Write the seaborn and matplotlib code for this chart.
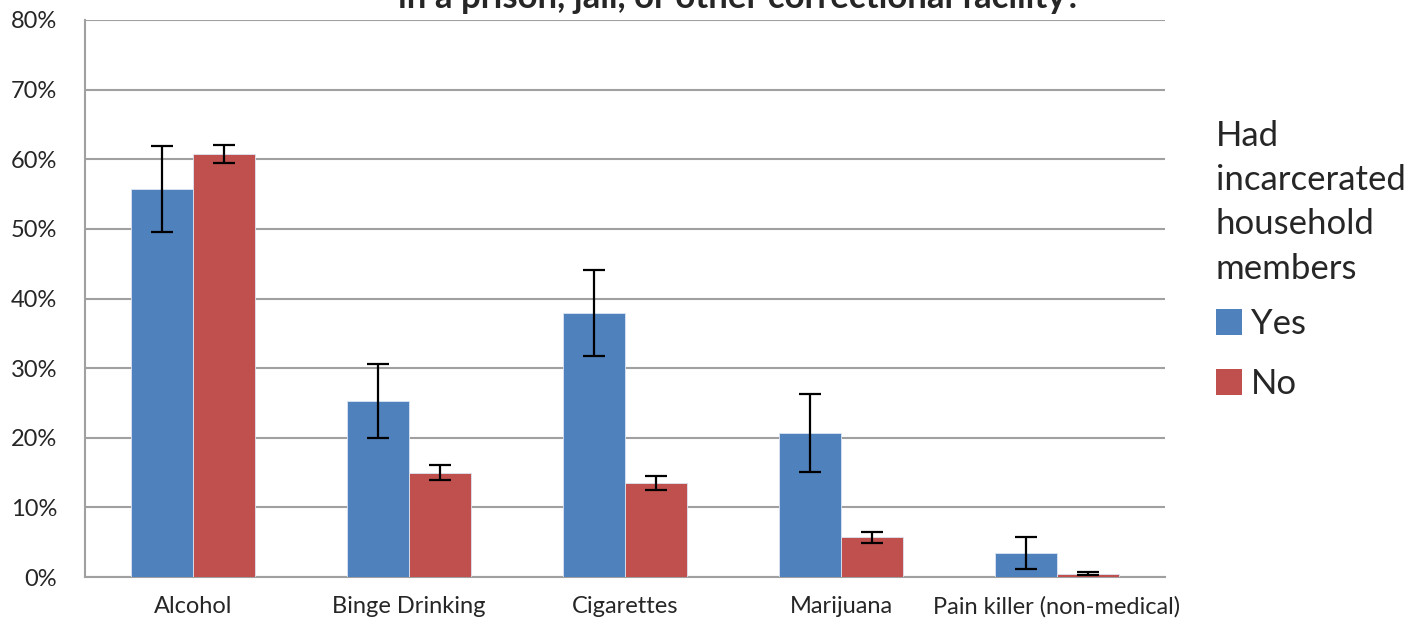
import numpy as np
import pandas as pd
import matplotlib
matplotlib.use("Agg")
import matplotlib.pyplot as plt
import seaborn as sns

# Data (percent)
categories = ["Alcohol", "Binge Drinking", "Cigarettes", "Marijuana", "Pain killer (non-medical)"]
groups = ["Yes", "No"]
yes_values = [55.7, 25.3, 37.9, 20.7, 3.5]
no_values = [60.8, 15.0, 13.5, 5.7, 0.5]
yes_errors = [6.2, 5.3, 6.2, 5.6, 2.3]
no_errors = [1.3, 1.1, 1.0, 0.8, 0.2]
y_ticks = [0, 10, 20, 30, 40, 50, 60, 70, 80]

colors = {"Yes": "#4F81BD", "No": "#C0504D"}
grid_gray = "#A0A0A0"

df = pd.DataFrame({
    "Substance": categories * 2,
    "Group": ["Yes"] * len(categories) + ["No"] * len(categories),
    "Percent": yes_values + no_values,
    "Error": yes_errors + no_errors,
})

sns.set_style("white")
plt.rcParams["font.family"] = ["Lato", "DejaVu Sans"]

fig = plt.figure(figsize=(14.2, 6.25), dpi=100)
ax = fig.add_axes([85 / 1420, 1 - 577 / 625, 1080 / 1420, 557 / 625])

sns.barplot(
    data=df, x="Substance", y="Percent", hue="Group",
    order=categories, hue_order=groups, palette=colors, saturation=1,
    width=0.574, errorbar=None, edgecolor="#DCE6F2", linewidth=0.6,
    ax=ax, zorder=3,
)

# error bars placed on the bar centres computed by seaborn
for container, group in zip(ax.containers, groups):
    sub = df[df["Group"] == group].set_index("Substance").loc[categories]
    xs = [p.get_x() + p.get_width() / 2 for p in container.patches]
    ax.errorbar(xs, sub["Percent"], yerr=sub["Error"], fmt="none",
                ecolor="black", elinewidth=1.6, capsize=8, capthick=1.6, zorder=4)

ax.set_ylim(0, 80)
ax.set_xlim(-0.5, len(categories) - 0.5)
ax.set_yticks(y_ticks)
ax.set_yticklabels([f"{t}%" for t in y_ticks])
ax.tick_params(axis="both", labelsize=17, length=0)
ax.tick_params(axis="y", pad=20)
ax.tick_params(axis="x", pad=14)
ax.set_xlabel("")
ax.set_ylabel("")
ax.yaxis.grid(True, color=grid_gray, linewidth=1.5, zorder=0)
ax.set_axisbelow(True)
for side in ["top", "right"]:
    ax.spines[side].set_visible(False)
for side in ["left", "bottom"]:
    ax.spines[side].set_color(grid_gray)
    ax.spines[side].set_linewidth(1.5)

# title, partly cut off at the top as in the original
fig.text(0.521, 1 - 8 / 625, "in a prison, jail, or other correctional facility?",
         ha="center", va="baseline", fontsize=25, fontweight="bold")

handles, labels = ax.get_legend_handles_labels()
ax.get_legend().remove()
leg = fig.legend(
    handles, labels, title="Had\nincarcerated\nhousehold\nmembers",
    loc="upper left", bbox_to_anchor=(1216 / 1420, 1 - 120 / 625),
    frameon=False, fontsize=25, title_fontsize=25, alignment="left",
    handlelength=0.75, handleheight=0.75, handletextpad=0.25,
    labelspacing=0.8, borderpad=0, borderaxespad=0,
)
leg.get_title().set_linespacing(1.47)
for h in leg.legend_handles:
    h.set_edgecolor("none")
leg._legend_box.sep = 17

fig.savefig("out.png", dpi=100)
